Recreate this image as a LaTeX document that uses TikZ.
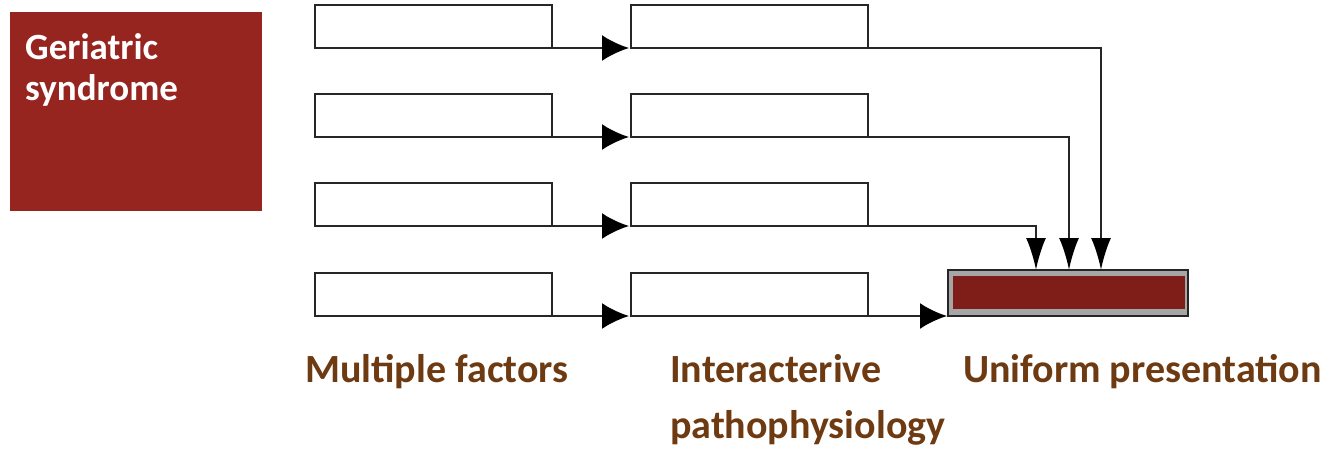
\documentclass[tikz,border=0pt]{standalone}
\usepackage{fontspec}
\setmainfont{Carlito}
\usetikzlibrary{arrows.meta}
\definecolor{gsred}{HTML}{962520}
\definecolor{outred}{HTML}{7F1D19}
\definecolor{lblbrown}{HTML}{6E3A12}
\definecolor{linegray}{HTML}{262626}
\tikzset{
  fbox/.style={draw=linegray, line width=2.5pt, fill=white, minimum width=237pt, minimum height=43pt, inner sep=0pt, outer sep=0pt, anchor=north west},
  conn/.style={draw=linegray, line width=2.5pt},
  harrow/.style={conn, -{Latex[length=27pt,width=26pt,black]}},
  varrow/.style={conn, -{Latex[length=32pt,width=20pt,black]}},
  lbl/.style={anchor=base west, inner sep=0pt, text=lblbrown, font=\bfseries\fontsize{40}{56}\selectfont, align=left},
}
\begin{document}
\begin{tikzpicture}[x=1pt,y=-1pt]
\useasboundingbox (0,0) rectangle (1336,448);
% title box
\node[fill=gsred, minimum width=252pt, minimum height=199pt, inner sep=0pt, anchor=north west] (gs) at (10,12) {};
\node[anchor=base west, inner sep=0pt, text=white, font=\bfseries\fontsize{37}{41}\selectfont, align=left] (gst) at (25,100) {Geriatric\\syndrome};
% factor boxes
\foreach \r/\y in {1/5,2/94,3/183,4/273}{
  \node[fbox] (a\r) at (315,\y) {};
  \node[fbox] (b\r) at (631,\y) {};
}
% output box
\node[draw=linegray, line width=2.5pt, fill=gray!70, minimum width=240pt, minimum height=46pt, inner sep=0pt, outer sep=0pt, anchor=north west] (out) at (948,270) {};
\fill[outred] ([shift={(5pt,-6pt)}]out.north west) rectangle ([shift={(-3pt,7pt)}]out.south east);
% horizontal arrows
\foreach \r in {1,2,3,4}{
  \draw[harrow, shorten >=2pt] (a\r.south east) -- (b\r.south west);
}
% to output
\coordinate (c1) at (1101,0);
\coordinate (c2) at (1069,0);
\coordinate (c3) at (1036,0);
\draw[varrow] (b1.south east) -| (c1 |- out.north);
\draw[varrow] (b2.south east) -| (c2 |- out.north);
\draw[varrow] (b3.south east) -| (c3 |- out.north);
\draw[harrow, shorten >=1pt] (b4.south east) -- (out.south west);
% labels
\node[lbl] (l1) at (305,382) {Multiple factors};
\node[lbl] (l2) at (670,438) {Interacterive\\pathophysiology};
\node[lbl] (l3) at (963,382) {Uniform presentation};
\end{tikzpicture}
\end{document}
